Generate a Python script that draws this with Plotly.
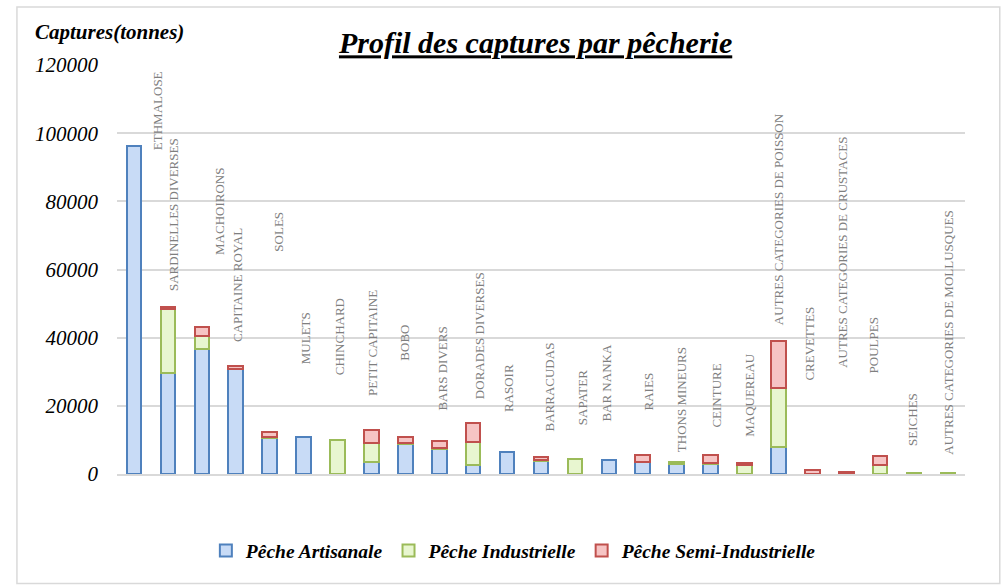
import plotly.graph_objects as go

categories = ["ETHMALOSE", "SARDINELLES DIVERSES", "MACHOIRONS", "CAPITAINE ROYAL", "SOLES",
              "MULETS", "CHINCHARD", "PETIT CAPITAINE", "BOBO", "BARS DIVERS",
              "DORADES DIVERSES", "RASOIR", "BARRACUDAS", "SAPATER", "BAR NANKA",
              "RAIES", "THONS MINEURS", "CEINTURE", "MAQUEREAU", "AUTRES CATEGORIES DE POISSON",
              "CREVETTES", "AUTRES CATEGORIES DE CRUSTACES", "POULPES", "SEICHES",
              "AUTRES CATEGORIES DE MOLLUSQUES"]

artisanale = [96300, 29700, 36700, 30700, 10700, 10800, None, 3400, 8800, 7200,
              2600, 6600, 3900, None, 4100, 3400, 2800, 2900, None, 7900,
              100, None, None, None, None]
industrielle = [None, 18600, 3800, None, 200, None, 10000, 5800, 300, 400,
                6700, None, 200, 4400, None, 200, 600, 300, 2500, 17300,
                None, None, 2600, 150, 300]
semi_industrielle = [None, 800, 2500, 1000, 1400, None, None, 3700, 1700, 2200,
                     5800, None, 800, None, None, 1900, None, 2400, 600, 13700,
                     1100, 500, 2800, None, None]

series_names = ["Pêche Artisanale", "Pêche Industrielle", "Pêche Semi-Industrielle"]
y_ticks = [0, 20000, 40000, 60000, 80000, 100000, 120000]

# label placement (bottom of rotated category label, in data units) and pixel shift
label_y = [94560, 53200, 63760, 38050, 64550, 31490, 28370, 22300, 32770, 18100,
           21420, 17600, 11740, 13700, 14880, 17990, 5870, 12910, 10180, 43220,
           26790, 30510, 28960, 7540, 5080]
label_dx = [23, 5, 17, 2, 9, 2, 2, 1.5, -1, 3, 6.5, 1, 8, 7.5, -2.5, 6, 5, 5, 5, 0,
            -2.5, -4, -7, -1, 1]

fills = ["#c8dbf6", "#e8f6d0", "#f6c4c4"]
lines = ["#4f81bd", "#9bbb59", "#c0504d"]
SERIF = "Liberation Serif, Times New Roman, Times, serif"

fig = go.Figure()
for name, vals, fc, lc in zip(series_names, [artisanale, industrielle, semi_industrielle], fills, lines):
    fig.add_trace(go.Bar(
        x=categories, y=vals, name=name,
        marker=dict(color=fc, line=dict(color=lc, width=2)),
    ))

for cat, ly, dx in zip(categories, label_y, label_dx):
    fig.add_annotation(x=cat, y=ly, text=cat, textangle=-90, showarrow=False,
                       xanchor="center", yanchor="bottom", xshift=dx,
                       font=dict(family=SERIF, size=13, color="#7f7f7f"))

fig.add_annotation(xref="paper", yref="paper", x=-0.099, y=1.08, xanchor="left", yanchor="middle",
                   text="<b><i>Captures(tonnes)</i></b>", showarrow=False,
                   font=dict(family=SERIF, size=21, color="black"))

# outer frame
fig.add_shape(type="rect", xref="paper", yref="paper", x0=-0.118, x1=1.041, y0=-0.268, y1=1.142,
              line=dict(color="#d9d9d9", width=1.5), fillcolor="rgba(0,0,0,0)", layer="below")

fig.update_layout(
    width=1003, height=587,
    margin=dict(l=117, r=38, t=65, b=113),
    paper_bgcolor="white", plot_bgcolor="white",
    barmode="stack", bargap=0.57,
    font=dict(family=SERIF),
    title=dict(text="<b><i><u>Profil des captures par pêcherie</u></i></b>",
               x=0.534, xref="container", y=0.927, yref="container",
               xanchor="center", yanchor="middle",
               font=dict(family=SERIF, size=30, color="black")),
    legend=dict(orientation="h", x=0.468, xanchor="center", y=-0.188, yanchor="middle",
                font=dict(family=SERIF, size=19.5, color="black", style="italic", weight="bold"),
                itemsizing="constant", traceorder="normal"),
    showlegend=True,
)
fig.update_xaxes(showticklabels=False, showgrid=False, showline=True, linecolor="#d9d9d9",
                 linewidth=1.5, ticks="", fixedrange=True)
fig.update_yaxes(range=[0, 120000], tickvals=y_ticks, ticktext=[str(v) for v in y_ticks],
                 showgrid=True, gridcolor="#d9d9d9", gridwidth=1.5, zeroline=False,
                 showline=False, ticks="", ticklabelstandoff=18,
                 tickfont=dict(family=SERIF, size=21, color="black", style="italic"))

fig.write_html("out.html", config={"displayModeBar": False},
               post_script="document.body.style.margin='0';document.body.style.overflow='hidden';")
